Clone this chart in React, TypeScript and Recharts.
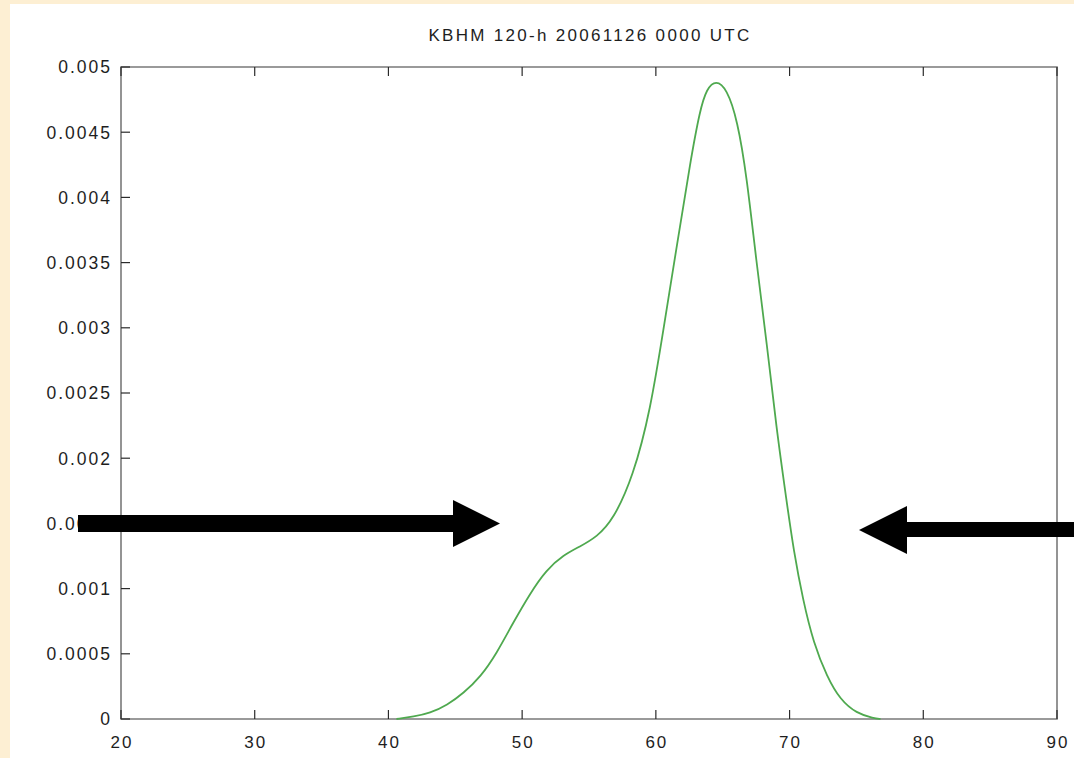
import React from "react";
import { LineChart, Line, XAxis, YAxis, ReferenceArea } from "recharts";

// density curve
const temps = [
  40.6, 41.9, 43.1, 44.4, 45.6, 46.9, 48.1, 49.3, 50.6, 51.8, 53.1, 54.3, 55.6,
  56.8, 58.3, 59.6, 60.6, 61.6, 62.6, 63.3, 63.8, 64.5, 65.3, 66.1, 66.8, 67.5,
  68.3, 69.0, 69.8, 70.3, 71.0, 71.8, 72.8, 73.8, 75.0, 76.3, 76.8,
];
const density = [
  0, 0.000018, 0.000044, 0.000107, 0.000197, 0.000324, 0.000504, 0.000734,
  0.000964, 0.001143, 0.001258, 0.001321, 0.001398, 0.001526, 0.001858,
  0.00237, 0.003008, 0.003648, 0.004287, 0.00467, 0.004834, 0.0049, 0.004834,
  0.004594, 0.004159, 0.00352, 0.002881, 0.00224, 0.001654, 0.001296, 0.000913,
  0.00058, 0.000324, 0.000146, 0.000044, 0.000005, 0,
];
const xTicks = [20, 30, 40, 50, 60, 70, 80, 90];
const yTicks = [
  0, 0.0005, 0.001, 0.0015, 0.002, 0.0025, 0.003, 0.0035, 0.004, 0.0045, 0.005,
];
const title = "KBHM 120-h 20061126 0000 UTC";

const data = temps.map((t, i) => ({ t, density: density[i] }));

const font = "'Liberation Sans', Arial, sans-serif";
const textColor = "#1e1e1e";
const tickColor = "#2a2a2a";

const BottomTick = (props: any) => {
  const { x, y, payload } = props;
  return (
    <g>
      <line x1={x} y1={y} x2={x} y2={y - 9} stroke={tickColor} strokeWidth={1.2} />
      <text
        x={x + 1}
        y={y + 29}
        textAnchor="middle"
        fontFamily={font}
        fontSize={17}
        letterSpacing={2}
        fill={textColor}
      >
        {payload.value}
      </text>
    </g>
  );
};

const TopTick = (props: any) => {
  const { x, y } = props;
  return <line x1={x} y1={y} x2={x} y2={y + 9} stroke={tickColor} strokeWidth={1.2} />;
};

const LeftTick = (props: any) => {
  const { x, y, payload } = props;
  return (
    <g>
      <line x1={x} y1={y} x2={x + 9} y2={y} stroke={tickColor} strokeWidth={1.2} />
      <text
        x={x - 9}
        y={y}
        dy="0.36em"
        textAnchor="end"
        fontFamily={font}
        fontSize={17.5}
        letterSpacing={2}
        fill={textColor}
      >
        {String(payload.value)}
      </text>
    </g>
  );
};

const RightTick = (props: any) => {
  const { x, y } = props;
  return <line x1={x} y1={y} x2={x - 9} y2={y} stroke={tickColor} strokeWidth={1.2} />;
};

export default function App() {
  return (
    <div
      style={{
        position: "absolute",
        left: 0,
        top: 0,
        width: 1074,
        height: 758,
        background: "#fdefd3",
        overflow: "hidden",
      }}
    >
      <div
        style={{
          position: "absolute",
          left: 10,
          top: 4,
          width: 1064,
          height: 754,
          background: "#ffffff",
        }}
      >
        <LineChart
          width={1064}
          height={754}
          data={data}
          margin={{ top: 62, right: 16, bottom: 9, left: 0 }}
        >
          <XAxis
            dataKey="t"
            type="number"
            domain={[20, 90]}
            ticks={xTicks}
            interval={0}
            height={30}
            tickSize={0}
            tickMargin={0}
            axisLine={false}
            tickLine={false}
            tick={BottomTick}
          />
          <XAxis
            xAxisId="top"
            orientation="top"
            dataKey="t"
            type="number"
            domain={[20, 90]}
            ticks={xTicks}
            interval={0}
            height={1}
            tickSize={0}
            tickMargin={0}
            axisLine={false}
            tickLine={false}
            tick={TopTick}
          />
          <YAxis
            type="number"
            domain={[0, 0.005]}
            ticks={yTicks}
            interval={0}
            width={111}
            tickSize={0}
            tickMargin={0}
            axisLine={false}
            tickLine={false}
            tick={LeftTick}
          />
          <YAxis
            yAxisId="right"
            orientation="right"
            type="number"
            domain={[0, 0.005]}
            ticks={yTicks}
            interval={0}
            width={1}
            tickSize={0}
            tickMargin={0}
            axisLine={false}
            tickLine={false}
            tick={RightTick}
          />
          {/* gnuplot style border box */}
          <ReferenceArea
            x1={20}
            x2={90}
            y1={0}
            y2={0.005}
            fill="none"
            fillOpacity={0}
            stroke="#7a7a7a"
            strokeWidth={1.6}
          />
          <Line
            type="basis"
            dataKey="density"
            stroke="#4fa94f"
            strokeWidth={1.8}
            dot={false}
            activeDot={false}
            isAnimationActive={false}
          />
        </LineChart>
      </div>
      {/* title and the two annotation arrows */}
      <svg
        width={1074}
        height={758}
        style={{ position: "absolute", left: 0, top: 0, pointerEvents: "none" }}
      >
        <text
          x={590}
          y={41}
          textAnchor="middle"
          fontFamily={font}
          fontSize={17}
          letterSpacing={2.3}
          fill={textColor}
        >
          {title}
        </text>
        <rect x={78} y={515} width={377} height={17} fill="#000" />
        <polygon points="453,500 500,523.5 453,547" fill="#000" />
        <polygon points="859,530 907,506 907,554" fill="#000" />
        <rect x={905} y={522} width={169} height={15} fill="#000" />
      </svg>
    </div>
  );
}
